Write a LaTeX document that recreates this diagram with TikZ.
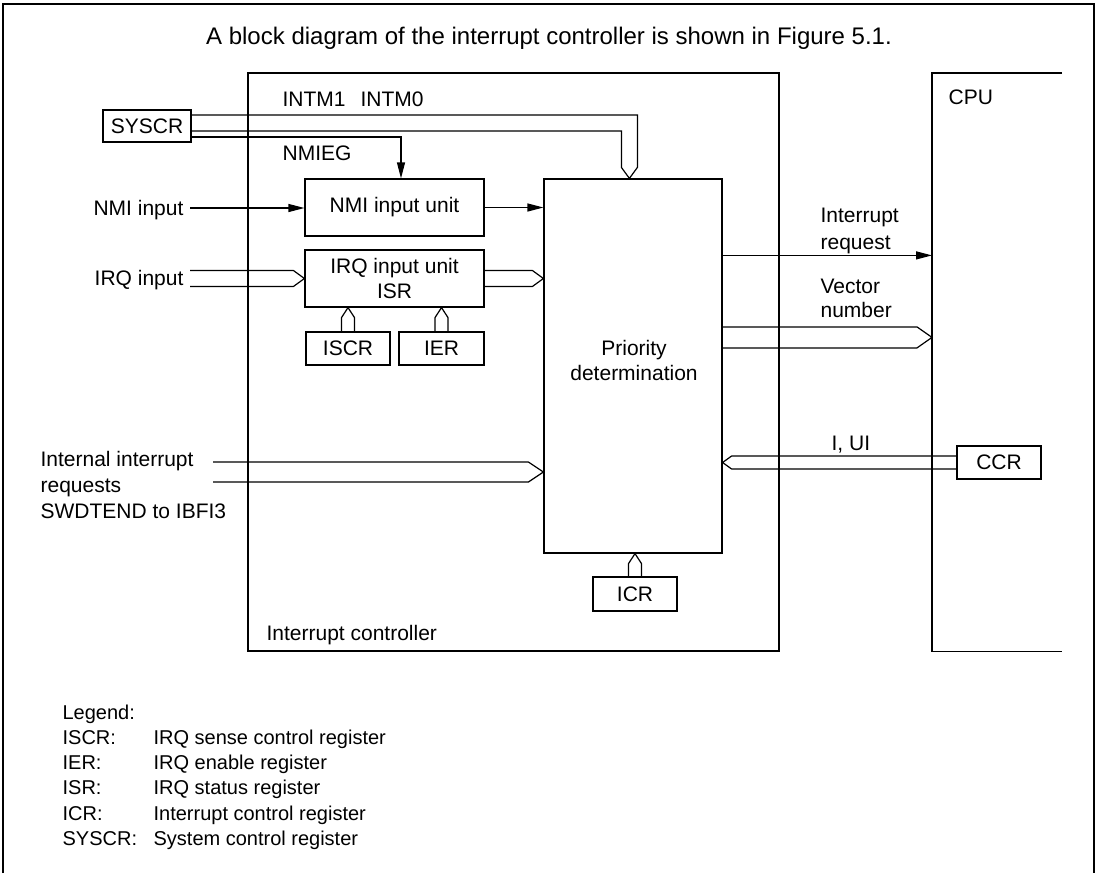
\documentclass[tikz,border=0pt]{standalone}
\usepackage{fontspec}
\setmainfont{Liberation Sans}
\usetikzlibrary{arrows.meta,calc}
\begin{document}
\begin{tikzpicture}[x=1pt,y=-1pt,line width=1.2pt,
  every node/.style={font=\fontsize{21}{25}\selectfont},
  box/.style 2 args={draw,inner sep=0pt,minimum width=#1,minimum height=#2},
  lbl/.style={inner sep=0pt,text height=15pt,text depth=0pt},
  lgd/.style={inner sep=0pt,anchor=west,font=\fontsize{20}{24}\selectfont,text height=14.3pt,text depth=0pt},
  arr/.style={-{Triangle[length=16pt,width=8pt]}},
  busR/.style 2 args={to path={let \p1=(\tikztostart),\p2=(\tikztotarget) in
     (\x1,\y2+#1) -- (\x2-#2,\y2+#1) -- (\p2) -- (\x2-#2,\y2-#1) -- (\x1,\y2-#1)}},
  busL/.style 2 args={to path={let \p1=(\tikztostart),\p2=(\tikztotarget) in
     (\x1,\y2+#1) -- (\x2+#2,\y2+#1) -- (\p2) -- (\x2+#2,\y2-#1) -- (\x1,\y2-#1)}},
  busU/.style 2 args={to path={let \p1=(\tikztostart),\p2=(\tikztotarget) in
     (\x2-#1,\y1) -- (\x2-#1,\y2-#2) -- (\p2) -- (\x2+#1,\y2-#2) -- (\x2+#1,\y1)}}]
\useasboundingbox (0,0) rectangle (1100,873);
% outer frame (open at the bottom)
\draw (3,873) -- (3,4) -- (1094,4) -- (1094,873);
\node[inner sep=0pt,text height=17.2pt,text depth=0pt,font=\fontsize{24}{28}\selectfont] (title) at (549,35.5)
  {A block diagram of the interrupt controller is shown in Figure 5.1.};
% interrupt controller
\node[box={531pt}{578pt}] (ctrl) at (513.5,362) {};
\node[lbl,anchor=west] (ctrllbl) at (266,633) {Interrupt controller};
% CPU
\coordinate (cpu) at (932,73);
\draw ($(cpu)+(130,0)$) -- (cpu) -- (cpu |- ctrl.south) -- ++(130,0);
\node[lbl,anchor=west] (cpulbl) at (948,97) {CPU};
% boxes
\node[box={88pt}{32pt}] (syscr) at (147,126) {SYSCR};
\node[box={179pt}{57pt}] (nmiu) at (394.5,207.5) {NMI input unit};
\node[box={179pt}{57pt},align=center] (irqu) at (394.5,278.5) {IRQ input unit\\ISR};
\node[box={178pt}{374pt}] (prio) at (633,366) {};
\node[lbl] (priot1) at (634,348) {Priority};
\node[lbl] (priot2) at (634,373) {determination};
\node[box={84pt}{33pt}] (iscr) at (348,348.5) {ISCR};
\node[box={85pt}{33pt}] (ier) at (441.5,348.5) {IER};
\node[box={84pt}{34pt}] (icr) at (635,594) {ICR};
\node[box={84pt}{33pt}] (ccr) at (999,462.5) {CCR};
% labels
\node[lbl,anchor=west] (intm) at (282,99) {INTM1\hspace{15pt}INTM0};
\node[lbl,anchor=west] (nmieg) at (282,153) {NMIEG};
\node[lbl,anchor=east] (nmiin) at (184,208) {NMI input};
\node[lbl,anchor=east] (irqin) at (184,278) {IRQ input};
\node[lbl,anchor=west] (int1) at (40,459) {Internal interrupt};
\node[lbl,anchor=west] (int2) at (40,485) {requests};
\node[lbl,anchor=west] (int3) at (40,511) {SWDTEND to IBFI3};
\node[lbl,anchor=west] (ir1) at (820,215) {Interrupt};
\node[lbl,anchor=west] (ir2) at (820,242) {request};
\node[lbl,anchor=west] (vn1) at (820,286) {Vector};
\node[lbl,anchor=west] (vn2) at (820,310) {number};
\node[lbl,anchor=west] (iui) at (831,443) {I, UI};
% SYSCR -> INTM bus into priority determination
\coordinate (intmtip) at ($(prio.north west)+(86,0)$);
\draw let \p1=(syscr.east),\p2=(intmtip) in
  (\x1,\y1+11pt) -- (\x2+8pt,\y1+11pt) -- (\x2+8pt,\y2+11pt) -- (\p2)
  -- (\x2-8pt,\y2+11pt) -- (\x2-8pt,\y1-5pt) -- (\x1,\y1-5pt);
% NMIEG
\draw[arr] ($(syscr.east)+(0,11)$) -| ($(nmiu.north)+(6.5,0)$);
% NMI path
\draw[arr] ($(nmiin.east)+(6,0)$) -- (nmiin.east -| nmiu.west);
\draw[arr] (nmiu.east) -- (nmiu.east -| prio.west);
% IRQ buses
\draw ($(irqin.east)+(6,0)$) to[busR={8pt}{11pt}] (irqu.west);
\draw (irqu.east) to[busR={8pt}{11pt}] (irqu.east -| prio.west);
\draw (iscr.north) to[busU={6.5pt}{10pt}] (iscr.north |- irqu.south);
\draw (ier.north) to[busU={6.5pt}{10pt}] (ier.north |- irqu.south);
% internal interrupt requests
\coordinate (intstart) at (213,472);
\draw (intstart) to[busR={10pt}{15pt}] (intstart -| prio.west);
% outputs to CPU
\coordinate (irqs) at ($(prio.north east)+(0,77)$);
\draw[arr] (irqs) -- (irqs -| cpu);
\coordinate (vecs) at ($(prio.north east)+(0,159)$);
\draw (vecs) to[busR={10.5pt}{15pt}] (vecs -| cpu);
% CCR -> priority
\draw (ccr.west) to[busL={6.5pt}{9pt}] (ccr.west -| prio.east);
% ICR -> priority
\draw (icr.north) to[busU={6.5pt}{10pt}] (icr.north |- prio.south);
% legend
\node[lgd] (lg0) at (62,712) {Legend:};
\node[lgd] (lg1) at (62,737) {ISCR:};
\node[lgd] (lg1d) at (153,737) {IRQ sense control register};
\node[lgd] (lg2) at (62,762) {IER:};
\node[lgd] (lg2d) at (153,762) {IRQ enable register};
\node[lgd] (lg3) at (62,787) {ISR:};
\node[lgd] (lg3d) at (153,787) {IRQ status register};
\node[lgd] (lg4) at (62,813) {ICR:};
\node[lgd] (lg4d) at (153,813) {Interrupt control register};
\node[lgd] (lg5) at (62,838) {SYSCR:};
\node[lgd] (lg5d) at (153,838) {System control register};
\end{tikzpicture}
\end{document}
